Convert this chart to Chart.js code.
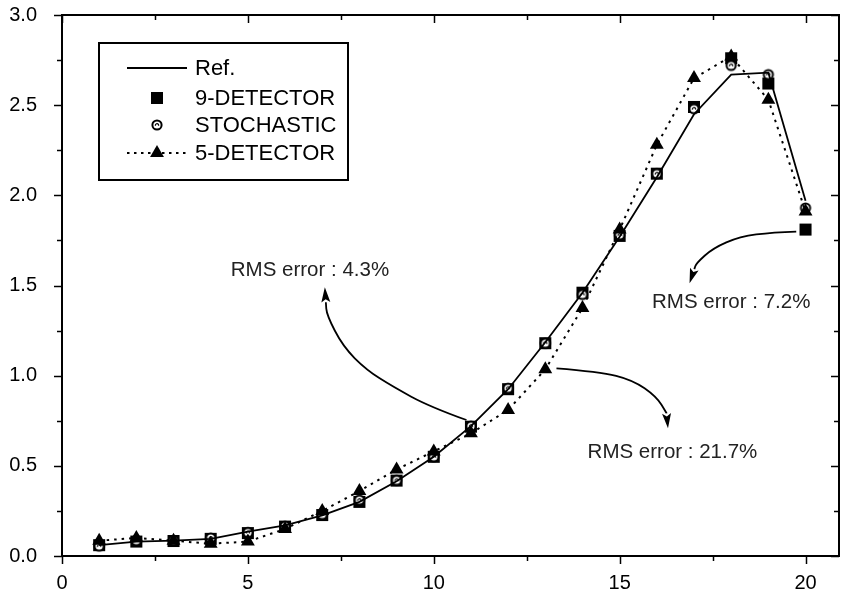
<!DOCTYPE html>
<html><head><meta charset="utf-8">
<style>html,body{margin:0;padding:0;background:#fff;overflow:hidden}#wrap{width:841px;height:599px;position:relative}</style>
<script src="https://cdn.jsdelivr.net/npm/chart.js@4.4.0/dist/chart.umd.min.js"></script>
</head><body><div id="wrap"><canvas id="c" width="841" height="599"></canvas></div>
<script>
// ---- data ----
const positions        = [1,2,3,4,5,6,7,8,9,10,11,12,13,14,15,16,17,18,19,20];
const refValues        = [0.06,0.08,0.085,0.095,0.135,0.17,0.225,0.30,0.415,0.55,0.72,0.925,1.185,1.46,1.77,2.10,2.45,2.67,2.68,1.97];
const det9Values       = [0.06,0.08,0.083,0.095,0.127,0.163,0.227,0.30,0.418,0.55,0.717,0.925,1.18,1.46,1.775,2.12,2.49,2.76,2.62,1.81];
const stochasticValues = [0.055,0.085,0.085,0.10,0.13,0.165,0.23,0.31,0.42,0.55,0.72,0.93,1.18,1.45,1.78,2.12,2.48,2.72,2.67,1.93];
const det5Values       = [0.085,0.10,0.085,0.068,0.08,0.15,0.25,0.36,0.48,0.58,0.68,0.81,1.035,1.375,1.81,2.28,2.65,2.77,2.53,1.91];
const seriesNames      = ['Ref.','9-DETECTOR','STOCHASTIC','5-DETECTOR'];
const xTicks           = [0,2.5,5,7.5,10,12.5,15,17.5,20];
const xTickLabels      = ['0','','5','','10','','15','','20'];
const yTicks           = [0,0.25,0.5,0.75,1,1.25,1.5,1.75,2,2.25,2.5,2.75,3];
const yTickLabels      = ['0.0','','0.5','','1.0','','1.5','','2.0','','2.5','','3.0'];
const annotationTexts  = ['RMS error : 4.3%','RMS error : 21.7%','RMS error : 7.2%'];
const annotationAt     = [[6.67,1.586],[16.42,0.577],[18.0,1.409]];
const arrowPaths = [
  [[10.88,0.754],[9.89,0.828],[8.90,0.939],[8.19,1.032],[7.56,1.161],[7.12,1.337],[7.07,1.490]],
  [[13.30,1.041],[14.46,1.022],[15.35,0.976],[15.99,0.884],[16.26,0.793],[16.30,0.708]],
  [[19.75,1.799],[19.12,1.795],[18.23,1.771],[17.51,1.707],[17.06,1.623],[16.88,1.512]]
];

// ---- styles ----
const FONT = '"Liberation Sans", Arial, sans-serif';
function makeCircleImg(){
  const c = document.createElement('canvas'); c.width = 14; c.height = 14;
  const g = c.getContext('2d');
  g.beginPath(); g.arc(7,7,4.6,0,Math.PI*2); g.fillStyle='#fff'; g.fill();
  g.lineWidth = 2; g.strokeStyle = '#000'; g.stroke();
  g.beginPath(); g.arc(7,7.3,1.6,Math.PI*0.9,Math.PI*2.1); g.lineWidth=1.2; g.stroke();
  return c;
}
const circleImg = makeCircleImg();

const pts = v => positions.map((x,i)=>({x, y:v[i]}));

const decorPlugin = {
  id:'decor',
  beforeDatasetsDraw(chart){
    const {ctx, chartArea:a, scales:{x,y}} = chart;
    ctx.save();
    ctx.strokeStyle='#000'; ctx.lineWidth=2;
    ctx.strokeRect(a.left, a.top, a.right-a.left, a.bottom-a.top);
    ctx.lineWidth=1.5;
    ctx.fillStyle='#000'; ctx.font='20px '+FONT;
    xTicks.forEach((v,i)=>{
      const px = Math.round(x.getPixelForValue(v))+0.5;
      const major = xTickLabels[i] !== '';
      const L = major ? 8 : 5;
      ctx.beginPath(); ctx.moveTo(px,a.bottom); ctx.lineTo(px,a.bottom+L); ctx.stroke();
      ctx.beginPath(); ctx.moveTo(px,a.top); ctx.lineTo(px,a.top+L); ctx.stroke();
      if (major){ ctx.textAlign='center'; ctx.textBaseline='middle'; ctx.fillText(xTickLabels[i], x.getPixelForValue(v), a.bottom+27); }
    });
    yTicks.forEach((v,i)=>{
      const py = Math.round(y.getPixelForValue(v))+0.5;
      const major = yTickLabels[i] !== '';
      const L = major ? 8 : 5;
      ctx.beginPath(); ctx.moveTo(a.left,py); ctx.lineTo(a.left-L,py); ctx.stroke();
      ctx.beginPath(); ctx.moveTo(a.right,py); ctx.lineTo(a.right-L,py); ctx.stroke();
      if (major){ ctx.textAlign='right'; ctx.textBaseline='middle'; ctx.fillText(yTickLabels[i], a.left-25, y.getPixelForValue(v)); }
    });
    ctx.restore();
  },
  afterDraw(chart){
    const {ctx, chartArea:a, scales:{x,y}} = chart;
    ctx.save();
    // annotations
    ctx.fillStyle='#222'; ctx.font='20.5px '+FONT; ctx.textAlign='center'; ctx.textBaseline='middle';
    annotationTexts.forEach((t,i)=>{
      ctx.fillText(t, x.getPixelForValue(annotationAt[i][0]), y.getPixelForValue(annotationAt[i][1]));
    });
    // arrows
    ctx.strokeStyle='#000'; ctx.fillStyle='#000'; ctx.lineWidth=1.8;
    arrowPaths.forEach(path=>{
      const p = path.map(q=>[x.getPixelForValue(q[0]), y.getPixelForValue(q[1])]);
      const n = p.length;
      const tip = p[n-1], prev = p[n-2];
      const ang = Math.atan2(tip[1]-prev[1], tip[0]-prev[0]);
      const headLen = 15, headW = 4.5;
      const base = [tip[0]-Math.cos(ang)*headLen, tip[1]-Math.sin(ang)*headLen];
      const pp = p.slice(0,n-1).concat([base]);
      ctx.beginPath(); ctx.moveTo(pp[0][0],pp[0][1]);
      for(let i=1;i<pp.length-1;i++){
        const mx=(pp[i][0]+pp[i+1][0])/2, my=(pp[i][1]+pp[i+1][1])/2;
        ctx.quadraticCurveTo(pp[i][0],pp[i][1],mx,my);
      }
      ctx.lineTo(base[0],base[1]); ctx.stroke();
      ctx.beginPath();
      ctx.moveTo(tip[0],tip[1]);
      ctx.lineTo(base[0]-Math.sin(ang)*headW, base[1]+Math.cos(ang)*headW);
      ctx.lineTo(base[0]+Math.cos(ang)*3, base[1]+Math.sin(ang)*3);
      ctx.lineTo(base[0]+Math.sin(ang)*headW, base[1]-Math.cos(ang)*headW);
      ctx.closePath(); ctx.fill();
    });
    // legend
    const L = a.left+37, T = a.top+28, W = 249, H = 137;
    ctx.fillStyle='#fff'; ctx.fillRect(L,T,W,H);
    ctx.strokeStyle='#000'; ctx.lineWidth=2; ctx.strokeRect(L,T,W,H);
    const rows = [T+25, T+55, T+82, T+110];
    const sx0 = L+28, sx1 = L+88, sxm = (sx0+sx1)/2;
    ctx.lineWidth=1.8; ctx.beginPath(); ctx.moveTo(sx0,rows[0]); ctx.lineTo(sx1,rows[0]); ctx.stroke();
    ctx.fillStyle='#000'; ctx.fillRect(sxm-6, rows[1]-6, 12, 12);
    ctx.drawImage(circleImg, sxm-7, rows[2]-7);
    ctx.setLineDash([2.5,4.5]); ctx.lineWidth=2;
    ctx.beginPath(); ctx.moveTo(sx0,rows[3]); ctx.lineTo(sx1,rows[3]); ctx.stroke();
    ctx.setLineDash([]);
    const r=8;
    ctx.beginPath();
    ctx.moveTo(sxm, rows[3]-r);
    ctx.lineTo(sxm+r*Math.sin(2*Math.PI/3), rows[3]-r*Math.cos(2*Math.PI/3));
    ctx.lineTo(sxm+r*Math.sin(4*Math.PI/3), rows[3]-r*Math.cos(4*Math.PI/3));
    ctx.closePath(); ctx.fill();
    ctx.fillStyle='#000'; ctx.font='22px '+FONT; ctx.textAlign='left'; ctx.textBaseline='middle';
    seriesNames.forEach((s,i)=>ctx.fillText(s, L+96, rows[i]+1));
    ctx.restore();
  }
};

new Chart(document.getElementById('c'), {
  type:'line',
  data:{ datasets:[
    { label:seriesNames[0], data:pts(refValues), borderColor:'#000', borderWidth:1.8, pointRadius:0, fill:false, order:1 },
    { label:seriesNames[1], data:pts(det9Values), showLine:false, pointStyle:'rect', pointRadius:8.5, pointBackgroundColor:'#000', pointBorderColor:'#000', pointBorderWidth:0, order:4 },
    { label:seriesNames[2], data:pts(stochasticValues), showLine:false, pointStyle:circleImg, pointRadius:5, order:3 },
    { label:seriesNames[3], data:pts(det5Values), borderColor:'#000', borderWidth:2, borderDash:[2.5,5], pointStyle:'triangle', pointRadius:8, pointBackgroundColor:'#000', pointBorderColor:'#000', pointBorderWidth:0, fill:false, order:2 }
  ]},
  options:{
    responsive:false, animation:false, devicePixelRatio:1,
    layout:{autoPadding:false, padding:{top:15,right:2,left:0,bottom:0}},
    plugins:{legend:{display:false}, tooltip:{enabled:false}},
    scales:{
      x:{ type:'linear', min:0, max:20.9,
          afterBuildTicks:s=>{ s.ticks = xTicks.map(v=>({value:v})); },
          afterFit:s=>{ s.height = 43; s.paddingLeft=0; s.paddingRight=0; s.paddingTop=0; s.paddingBottom=0; },
          grid:{display:false, drawTicks:false}, border:{display:false},
          ticks:{ display:false } },
      y:{ min:0, max:3,
          afterBuildTicks:s=>{ s.ticks = yTicks.map(v=>({value:v})); },
          afterFit:s=>{ s.width = 62; s.paddingLeft=0; s.paddingRight=0; s.paddingTop=0; s.paddingBottom=0; },
          grid:{display:false, drawTicks:false}, border:{display:false},
          ticks:{ display:false } }
    }
  },
  plugins:[decorPlugin]
});
</script></body></html>
